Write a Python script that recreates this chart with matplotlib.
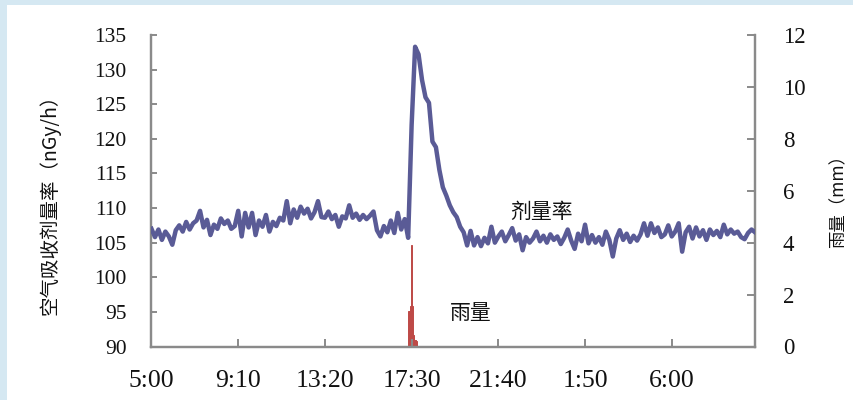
import matplotlib
matplotlib.use("Agg")
import matplotlib.pyplot as plt
from matplotlib.patches import Rectangle
import numpy as np

# ---------------- data ----------------
start_time = "5:00"
step_min = 10  # dose-rate sampling interval (minutes)

dose_rate = [
    107.0, 105.8, 106.9, 105.4, 106.6, 105.9, 104.7, 106.8, 107.5, 106.6,
    108.0, 106.9, 107.8, 108.2, 109.6, 107.2, 108.3, 106.1, 107.6, 107.0,
    108.5, 107.7, 108.2, 107.0, 107.4, 109.6, 105.9, 109.3, 107.2, 109.3,
    106.1, 108.2, 107.3, 109.0, 106.6, 108.0, 107.4, 108.6, 108.2, 111.0,
    107.8, 109.8, 108.6, 110.2, 109.2, 109.9, 108.5, 109.4, 111.0, 108.7,
    108.6, 109.5, 108.4, 109.0, 107.3, 108.8, 108.5, 110.4, 108.6, 109.2,
    108.3, 109.0, 108.4, 108.9, 109.5, 106.8, 105.9, 107.4, 106.5, 108.2,
    106.4, 109.3, 106.9, 108.4, 105.7, 122.0, 133.3, 132.2, 128.5, 126.0,
    125.2, 119.6, 118.8, 115.5, 113.0, 111.8, 110.4, 109.4, 108.7, 107.3,
    106.5, 104.6, 106.7, 104.6, 105.8, 104.5, 105.7, 104.9, 107.3, 105.0,
    105.9, 106.6, 105.2, 106.1, 107.1, 105.3, 106.2, 103.9, 105.8, 105.0,
    105.6, 106.6, 105.2, 106.0, 105.0, 106.2, 105.4, 105.9, 104.8, 105.7,
    106.9, 105.3, 104.1, 106.3, 105.2, 107.6, 104.9, 106.1, 105.0, 105.8,
    104.7, 106.6, 105.4, 103.0, 105.6, 106.8, 105.4, 106.3, 105.1, 106.0,
    105.3, 106.2, 107.8, 106.0, 107.8, 106.4, 107.2, 105.8, 106.2, 107.5,
    105.9, 106.6, 107.8, 103.7, 106.5, 107.3, 105.6, 107.2, 105.9, 106.8,
    105.4, 106.9, 106.1, 106.7, 105.8, 107.6, 106.2, 106.9, 106.3, 106.6,
    105.8, 105.5, 106.4, 106.9, 106.5,
]

rain_times = ["17:20", "17:22", "17:24", "17:26", "17:28", "17:30", "17:32",
              "17:34", "17:36", "17:38", "17:40", "17:42", "17:44"]
rain_mm = [1.35, 1.35, 1.5, 1.55, 3.9, 1.6, 1.55, 0.45, 0.4, 0.25, 0.25, 0.25, 0.2]
rain_step_min = 2

tick_labels = ["5:00", "9:10", "13:20", "17:30", "21:40", "1:50", "6:00"]

left_label = "空气吸收剂量率（nGy/h）"
right_label = "雨量（mm）"
dose_note = "剂量率"
rain_note = "雨量"

# ---------------- helpers ----------------
def to_min(s):
    h, m = s.split(":")
    return int(h) * 60 + int(m)

t0 = to_min(start_time)

def since_start(s):
    d = to_min(s) - t0
    return d if d >= 0 else d + 1440

dose_x = np.arange(len(dose_rate)) * step_min
rain_x = np.array([since_start(s) for s in rain_times])
# ticks after midnight belong to the next day
tick_x = []
prev = -1
day = 0
for s in tick_labels:
    v = to_min(s) - t0 + day * 1440
    if v < prev:
        day += 1
        v += 1440
    tick_x.append(v)
    prev = v

# ---------------- figure ----------------
plt.rcParams['font.family'] = ['Noto Sans CJK SC', 'DejaVu Sans']
fig = plt.figure(figsize=(8.54, 4.0), dpi=100)
fig.patch.set_facecolor('#d5e8f2')
fig.patches.append(Rectangle((7 / 854, 0), 1, 1 - 5 / 400, transform=fig.transFigure,
                             facecolor='white', edgecolor='none', zorder=-10))

ax = fig.add_axes([151.5 / 854, 1 - 346.5 / 400, (755 - 151.5) / 854, (346.5 - 35) / 400])
ax.set_facecolor('none')
ax2 = ax.twinx()
ax2.set_facecolor('none')
ax2.set_zorder(1)
ax.set_zorder(2)

line_color = '#5a5b96'
rain_color = '#be4a47'
spine_color = '#8a8a8a'

ax2.bar(rain_x, rain_mm, width=rain_step_min, align='edge', color=rain_color,
        edgecolor=rain_color, linewidth=0.7, zorder=2)
ax.plot(dose_x, dose_rate, color=line_color, lw=3.2, solid_joinstyle='round', zorder=3)

ax.set_xlim(0, (len(dose_rate) - 1) * step_min)
ax.set_ylim(90, 135)
ax2.set_ylim(0, 12)
ax.set_yticks(np.arange(90, 136, 5))
ax2.set_yticks(np.arange(0, 13, 2))
ax.set_xticks(tick_x)
ax.set_xticklabels(tick_labels)

serif = 'Liberation Serif'
for lab in ax.get_yticklabels():
    lab.set_fontfamily(serif)
    lab.set_fontsize(15.5)
for lab in ax2.get_yticklabels():
    lab.set_fontfamily(serif)
    lab.set_fontsize(16.5)
for lab in ax.get_xticklabels():
    lab.set_fontfamily(serif)
    lab.set_fontsize(18.5)

for a in (ax, ax2):
    for sp in a.spines.values():
        sp.set_color(spine_color)
        sp.set_linewidth(1.6)
    a.spines['top'].set_visible(False)

ax.tick_params(axis='y', direction='in', length=4, width=1.4, color=spine_color,
               pad=18, labelcolor='#111111')
ax2.tick_params(axis='y', direction='in', length=6, width=1.4, color=spine_color,
                pad=20, labelcolor='#111111')
ax.tick_params(axis='x', direction='in', length=6, width=1.4, color=spine_color,
               pad=17, labelcolor='#111111')

fig.text(50 / 854, 1 - 200 / 400, left_label, rotation=90, ha='center', va='center',
         fontsize=14, color='#111111')
fig.text(838 / 854, 1 - 197 / 400, right_label, rotation=90, ha='center', va='center',
         fontsize=12.5, color='#111111')

ax.text(1125, 109.4, dose_note, ha='center', va='center', fontsize=15, color='#111111')
ax.text(920, 94.9, rain_note, ha='center', va='center', fontsize=15, color='#111111')

fig.savefig('out.png', dpi=100, facecolor=fig.get_facecolor())
